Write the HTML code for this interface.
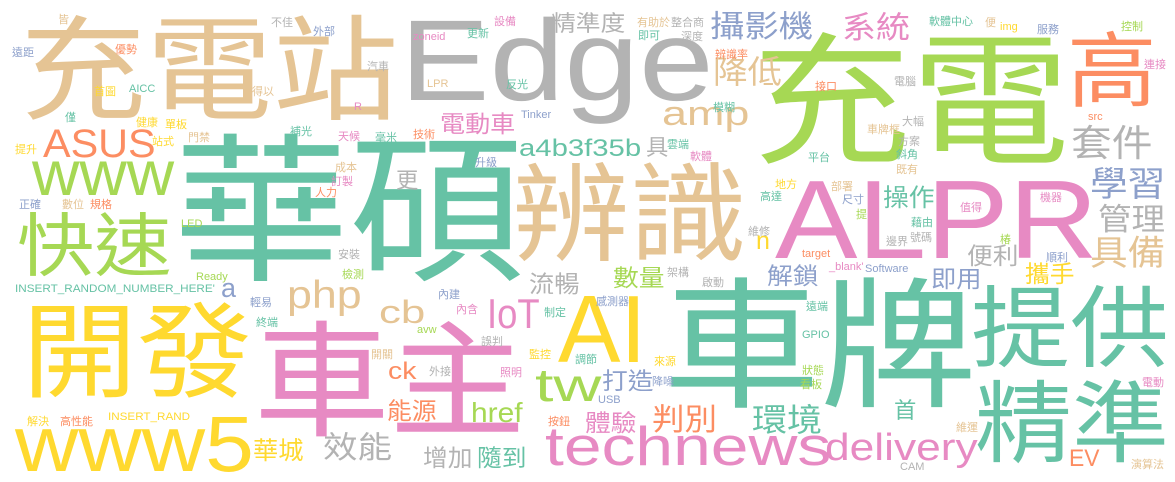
<!DOCTYPE html>
<html><head><meta charset="utf-8">
<style>
html,body{margin:0;padding:0;background:#fff;}
#cloud{position:relative;width:1175px;height:482px;overflow:hidden;background:#fff;}
#cloud span{position:absolute;white-space:nowrap;line-height:1;transform-origin:0 0;font-family:"Liberation Sans","Noto Sans CJK TC",sans-serif;}
</style></head>
<body>
<div id="cloud"></div>
<script>
const C={T:"#66c2a5",O:"#fc8d62",B:"#8da0cb",P:"#e78ac3",G:"#a6d854",Y:"#ffd92f",N:"#e5c494",R:"#b3b3b3"};
// [text, x, inkTop, fontSize, targetWidth, color, type]
const words=[
["充電站",20,15,123,367,"N","c"],
["Edge",400,17,115,298,"R","A"],
["充電",752,32,155,308,"G","c"],
["高",1067,32,88,87,"O","c"],
["華碩",173,133,172,342,"T","c"],
["辨識",512,162,115,228,"N","c"],
["ALPR",775,177,111,307,"P","A"],
["開發",22,302,112,223,"Y","c"],
["車主",254,320,135,263,"P","c"],
["車牌",663,277,152,304,"T","c"],
["提供",971,285,96,192,"T","c"],
["精準",975,380,96,188,"T","c"],
["AI",558,293,96,84,"Y","A"],
["www5",15,413,79,227,"Y","A"],
["technews",545,425,55,272,"P","A"],
["delivery",825,433,38,145,"P","A"],
["www",32,163,63,135,"G","x"],
["快速",17,213,74,150,"G","c"],
["ASUS",43,128,40,107,"O","A"],
["精準度",551,13,24,72,"R","c"],
["攝影機",710,12,33,100,"B","c"],
["系統",842,13,33,66,"P","c"],
["降低",713,57,34,67,"N","c"],
["amp",662,108,34,83,"N","x"],
["套件",1071,125,40,79,"R","c"],
["學習",1090,168,37,73,"B","c"],
["管理",1098,205,33,65,"R","c"],
["具備",1090,237,37,73,"N","c"],
["a4b3f35b",519,140,24,116,"T","A"],
["電動車",440,113,25,73,"P","c"],
["具",646,137,24,0,"R","c"],
["更",396,170,24,0,"R","c"],
["操作",883,187,26,50,"T","c"],
["php",287,280,39,71,"N","A"],
["流暢",529,273,25,49,"R","c"],
["cb",379,300,32,44,"N","A"],
["IoT",487,298,42,50,"P","A"],
["a",221,283,27,0,"B","x"],
["n",756,237,25,0,"Y","x"],
["便利",967,245,25,50,"R","c"],
["解鎖",767,265,25,50,"B","c"],
["即用",931,268,25,49,"B","c"],
["攜手",1025,263,25,48,"Y","c"],
["數量",613,267,25,50,"G","c"],
["tw",535,367,46,63,"G","A"],
["ck",388,363,24,27,"O","A"],
["能源",387,400,25,48,"O","c"],
["href",471,402,28,49,"G","A"],
["華城",253,440,26,49,"Y","c"],
["效能",323,433,33,67,"R","c"],
["增加",423,447,25,48,"R","c"],
["隨到",477,447,25,48,"T","c"],
["打造",602,370,25,50,"B","c"],
["判別",652,405,33,63,"O","c"],
["環境",752,405,34,68,"T","c"],
["首",894,400,24,0,"T","c"],
["體驗",585,412,25,50,"P","c"],
["EV",1069,450,24,29,"O","A"],
["皆",58,15,11,0,"N","c"],["不佳",271,18,11,0,"R","c"],["外部",313,27,11,0,"B","c"],
["設備",494,17,11,0,"P","c"],["更新",467,29,11,0,"T","c"],["zoneid",413,33,11,0,"P","A"],
["遠距",12,48,11,0,"B","c"],["優勢",115,45,11,0,"O","c"],["汽車",367,62,11,0,"R","c"],
["首圖",94,87,11,0,"Y","c"],["AICC",129,85,11,0,"T","A"],["得以",252,87,11,0,"N","c"],
["LPR",427,80,11,0,"N","A"],["反光",506,80,11,0,"T","c"],["R",354,103,11,0,"P","A"],
["Tinker",521,111,11,0,"B","A"],["僅",65,113,11,0,"T","c"],["健康",136,118,11,0,"Y","c"],
["單板",165,120,11,0,"Y","c"],["補光",290,127,11,0,"T","c"],["天候",338,132,11,0,"P","c"],
["毫米",375,133,11,0,"T","c"],["技術",413,130,11,0,"O","c"],["門禁",188,133,11,0,"N","c"],
["站式",152,137,11,0,"Y","c"],["提升",15,145,11,0,"Y","c"],["升級",475,158,11,0,"B","c"],
["成本",335,163,11,0,"N","c"],["訂製",331,177,11,0,"P","c"],["人力",315,188,11,0,"O","c"],
["正確",19,200,11,0,"B","c"],["數位",62,200,11,0,"N","c"],["規格",90,200,11,0,"O","c"],
["LED",181,220,11,0,"G","A"],["安裝",338,250,11,0,"R","c"],["檢測",342,270,11,0,"G","c"],
["Ready",196,273,11,0,"G","A"],["INSERT_RANDOM_NUMBER_HERE'",15,285,11,190,"T","A"],
["輕易",250,298,11,0,"B","c"],["內建",438,290,11,0,"B","c"],["內含",456,305,11,0,"P","c"],
["制定",544,308,11,0,"T","c"],["終端",256,318,11,0,"T","c"],["avw",417,326,11,0,"G","A"],
["誤判",481,337,11,0,"R","c"],["開關",371,350,11,0,"N","c"],["監控",529,350,11,0,"Y","c"],
["調節",575,355,11,0,"T","c"],["外接",429,367,11,0,"R","c"],["照明",500,368,11,0,"P","c"],
["解決",27,417,11,0,"Y","c"],["高性能",60,417,11,0,"O","c"],["INSERT_RAND",108,413,11,78,"Y","A"],
["按鈕",548,417,11,0,"O","c"],
["有助於",637,18,11,0,"N","c"],["整合商",671,18,11,0,"R","c"],["即可",638,31,11,0,"T","c"],
["深度",681,32,11,0,"R","c"],["軟體中心",929,17,11,0,"T","c"],["便",985,18,11,0,"N","c"],
["img",1000,23,11,0,"Y","A"],["服務",1037,25,11,0,"B","c"],["控制",1121,22,11,0,"G","c"],
["辨識率",715,50,11,0,"O","c"],["接口",815,82,11,0,"O","c"],["電腦",894,77,11,0,"R","c"],
["連接",1144,60,11,0,"P","c"],["模糊",713,103,11,0,"T","c"],["src",1088,113,11,0,"O","A"],
["大幅",902,117,11,0,"R","c"],["車牌框",867,125,11,0,"N","c"],["雲端",667,140,11,0,"T","c"],
["方案",898,137,11,0,"R","c"],["軟體",690,152,11,0,"P","c"],["斜角",896,150,11,0,"T","c"],
["平台",808,153,11,0,"T","c"],["既有",896,165,11,0,"N","c"],["地方",775,180,11,0,"Y","c"],
["部署",831,182,11,0,"N","c"],["高達",760,192,11,0,"T","c"],["尺寸",842,195,11,0,"B","c"],
["機器",1040,193,11,0,"P","c"],["值得",960,203,11,0,"P","c"],["提",856,210,11,0,"G","c"],
["藉由",911,218,11,0,"T","c"],["維修",748,227,11,0,"R","c"],["邊界",886,237,11,0,"R","c"],
["號碼",910,233,11,0,"R","c"],["椿",1000,235,11,0,"G","c"],["target",802,250,11,0,"O","A"],
["順利",1046,253,11,0,"B","c"],["_blank'",829,263,11,0,"P","A"],["Software",865,265,11,0,"B","A"],
["架構",667,268,11,0,"R","c"],["啟動",702,278,11,0,"R","c"],["感測器",596,297,11,0,"B","c"],
["遠端",806,302,11,0,"T","c"],["GPIO",802,331,11,0,"T","A"],["來源",654,357,11,0,"Y","c"],
["狀態",802,366,11,0,"G","c"],["降噪",652,377,11,0,"B","c"],["看板",800,380,11,0,"G","c"],
["電動",1142,378,11,0,"P","c"],["USB",598,396,11,0,"B","A"],["維運",956,423,11,0,"N","c"],
["CAM",900,463,11,0,"R","A"],["演算法",1131,460,11,0,"N","c"]
];
const cloud=document.getElementById('cloud');
const fsK={c:0.93,A:1.0,x:1.0};
const off={c:0.0,A:0.11,x:0.31};
words.forEach(w=>{
  const s=document.createElement('span');
  
  
  s.textContent=w[0];
  const fs=w[3]>11?w[3]*fsK[w[6]]:11;
  s.style.fontSize=fs+'px';
  s.style.color=C[w[5]];
  s.style.left=w[1]+'px';
  s.style.top=(w[2]-off[w[6]]*fs)+'px';
  cloud.appendChild(s);
  if(w[4]>0){
    const cw=s.getBoundingClientRect().width;
    const k=w[6]==='c'?w[4]/(cw*0.97):w[4]/(cw*0.95);
    if(cw>0) s.style.transform='scaleX('+k.toFixed(3)+')';
  }
});
</script>
</body></html>
